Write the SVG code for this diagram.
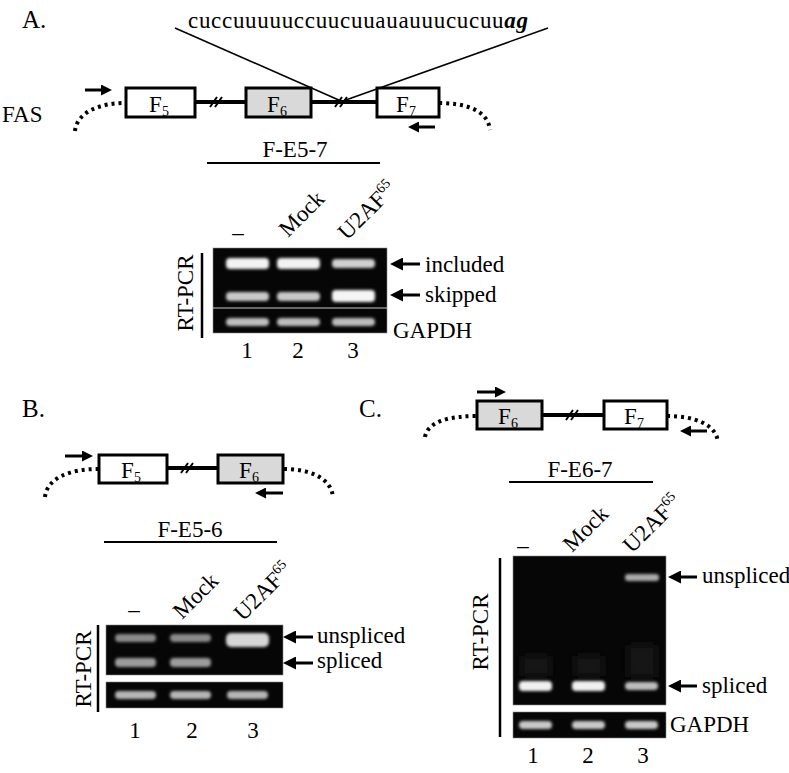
<svg xmlns="http://www.w3.org/2000/svg" width="789" height="773" viewBox="0 0 789 773">
<style>
.t{font-family:"Liberation Serif","Times New Roman",serif;font-size:23px;fill:#000}
.big{font-size:25px}
.gene{stroke:#000;stroke-width:4;fill:none}
.box{stroke:#000;stroke-width:3;fill:#fff}
.boxg{stroke:#000;stroke-width:3;fill:#d9d9d9}
.dot{stroke:#000;stroke-width:4;fill:none;stroke-dasharray:3 4}
.brk{stroke:#000;stroke-width:2;fill:none}
.thin{stroke:#000;stroke-width:1.6;fill:none}
.ul{stroke:#000;stroke-width:2;fill:none}
.arr{stroke:#000;stroke-width:3;fill:none}
.gel{fill:#060606;stroke:#888;stroke-width:0.6}
.band{filter:url(#blur)}
.sm{fill:#161616;filter:url(#smear)}
</style>
<defs>
<marker id="ah" markerWidth="13" markerHeight="13" refX="0" refY="6.5" orient="auto" markerUnits="userSpaceOnUse"><path d="M0,0 L13,6.5 L0,13 z" fill="#000"/></marker>
<marker id="ps" markerWidth="11" markerHeight="11" refX="0" refY="5.5" orient="auto" markerUnits="userSpaceOnUse"><path d="M0,0 L11,5.5 L0,11 z" fill="#000"/></marker>
<filter id="blur" x="-20%" y="-60%" width="140%" height="220%"><feGaussianBlur stdDeviation="1.8"/></filter>
<filter id="smear" x="-40%" y="-60%" width="180%" height="220%"><feGaussianBlur stdDeviation="5"/></filter>
</defs>

<!-- Panel A -->
<g id="labelA"><text class="t big" x="22" y="28">A.</text></g>
<g id="sequence"><text class="t" x="188" y="28" textLength="340" lengthAdjust="spacing">cuccuuuuuccuucuuauauuucucuu<tspan font-weight="bold" font-style="italic">ag</tspan></text></g>
<g id="FAS"><text class="t" x="2" y="122" font-size="24">FAS</text></g>
<g id="connectorsA">
<line class="thin" x1="175" y1="28" x2="341" y2="101"/>
<line class="thin" x1="548" y1="28" x2="343" y2="101"/>
<line class="gene" x1="125" y1="102" x2="439" y2="102"/>
<path class="brk" d="M210,107 L217,97 M215,107 L222,97"/>
<path class="brk" d="M335,107 L342,97 M340,107 L347,97"/>
<path class="dot" d="M75,131 C77,112 100,103 125,103"/>
<path class="dot" d="M439,103 C465,103 488,110 490,130"/>
<line class="arr" x1="85" y1="90" x2="101" y2="90" marker-end="url(#ps)"/>
<line class="arr" x1="435" y1="127" x2="419" y2="127" marker-end="url(#ps)"/>
<line class="ul" x1="207" y1="163" x2="380" y2="163"/>
</g>
<g id="A_F5"><rect class="box" x="126" y="88" width="69" height="29"/><text class="t" x="159" y="112" text-anchor="middle">F<tspan font-size="14" dy="4">5</tspan></text></g>
<g id="A_F6"><rect class="boxg" x="246" y="88" width="65" height="29"/><text class="t" x="277" y="112" text-anchor="middle">F<tspan font-size="14" dy="4">6</tspan></text></g>
<g id="A_F7"><rect class="box" x="377" y="88" width="62" height="29"/><text class="t" x="406" y="112" text-anchor="middle">F<tspan font-size="14" dy="4">7</tspan></text></g>
<g id="A_title"><text class="t" x="295" y="157" text-anchor="middle">F-E5-7</text></g>
<g id="A_lanes">
<text class="t" x="238" y="240" text-anchor="middle">–</text>
<text class="t" transform="translate(288,238) rotate(-45)">Mock</text>
<text class="t" transform="translate(347,241) rotate(-45)">U2AF<tspan font-size="14" dy="-9">65</tspan></text>
</g>
<g id="A_gel">
<rect class="gel" x="213" y="248" width="174" height="85"/>
<line x1="213" y1="308" x2="387" y2="308" stroke="#c8c8c8" stroke-width="1"/>
<rect class="band" x="226" y="258" width="43" height="11" rx="4" fill="#f2f2f2"/>
<rect class="band" x="277" y="258" width="43" height="11" rx="4" fill="#f2f2f2"/>
<rect class="band" x="332" y="259" width="43" height="9" rx="4" fill="#d0d0d0"/>
<rect class="band" x="226" y="292" width="43" height="9" rx="4" fill="#c8c8c8"/>
<rect class="band" x="277" y="292" width="43" height="9" rx="4" fill="#c8c8c8"/>
<rect class="band" x="332" y="290" width="43" height="12" rx="4" fill="#f5f5f5"/>
<rect class="band" x="226" y="318" width="43" height="8" rx="4" fill="#bdbdbd"/>
<rect class="band" x="277" y="318" width="43" height="8" rx="4" fill="#bdbdbd"/>
<rect class="band" x="332" y="318" width="43" height="8" rx="4" fill="#bdbdbd"/>
</g>
<g id="A_rtpcr"><line x1="202" y1="253" x2="202" y2="338" stroke="#000" stroke-width="2.5"/><text class="t" transform="translate(193,293) rotate(-90)" text-anchor="middle">RT-PCR</text></g>
<g id="A_marks">
<line class="arr" x1="420" y1="264" x2="403" y2="264" marker-end="url(#ah)"/>
<text class="t" x="425" y="272">included</text>
<line class="arr" x1="420" y1="295" x2="403" y2="295" marker-end="url(#ah)"/>
<text class="t" x="425" y="302">skipped</text>
<text class="t" x="393" y="338">GAPDH</text>
<text class="t" x="247" y="358" text-anchor="middle">1</text>
<text class="t" x="298" y="358" text-anchor="middle">2</text>
<text class="t" x="353" y="358" text-anchor="middle">3</text>
</g>

<!-- Panel B -->
<g id="labelB"><text class="t big" x="22" y="417">B.</text></g>
<g id="connectorsB">
<line class="gene" x1="98" y1="468" x2="284" y2="468"/>
<path class="brk" d="M181,473 L188,463 M186,473 L193,463"/>
<path class="dot" d="M45,497 C47,478 70,469 98,469"/>
<path class="dot" d="M284,469 C310,469 331,478 333,497"/>
<line class="arr" x1="65" y1="456" x2="82" y2="456" marker-end="url(#ps)"/>
<line class="arr" x1="283" y1="493" x2="266" y2="493" marker-end="url(#ps)"/>
<line class="ul" x1="104" y1="542" x2="277" y2="542"/>
</g>
<g id="B_F5"><rect class="box" x="99" y="455" width="68" height="28"/><text class="t" x="131" y="478" text-anchor="middle">F<tspan font-size="14" dy="4">5</tspan></text></g>
<g id="B_F6"><rect class="boxg" x="218" y="455" width="65" height="28"/><text class="t" x="249" y="478" text-anchor="middle">F<tspan font-size="14" dy="4">6</tspan></text></g>
<g id="B_title"><text class="t" x="190" y="537" text-anchor="middle">F-E5-6</text></g>
<g id="B_lanes">
<text class="t" x="134" y="617" text-anchor="middle">–</text>
<text class="t" transform="translate(182,620) rotate(-45)">Mock</text>
<text class="t" transform="translate(243,622) rotate(-45)">U2AF<tspan font-size="14" dy="-9">65</tspan></text>
</g>
<g id="B_gel">
<rect class="gel" x="106" y="625" width="177" height="50"/>
<rect class="gel" x="106" y="682" width="177" height="26"/>
<rect class="band" x="115" y="634" width="41" height="8" rx="4" fill="#8a8a8a"/>
<rect class="band" x="170" y="634" width="41" height="8" rx="4" fill="#8a8a8a"/>
<rect class="band" x="226" y="633" width="43" height="14" rx="5" fill="#d5d5d5"/>
<rect class="band" x="115" y="658" width="41" height="9" rx="4" fill="#9c9c9c"/>
<rect class="band" x="170" y="658" width="41" height="9" rx="4" fill="#9c9c9c"/>
<rect class="band" x="115" y="691" width="41" height="8" rx="4" fill="#b5b5b5"/>
<rect class="band" x="170" y="691" width="41" height="8" rx="4" fill="#b5b5b5"/>
<rect class="band" x="227" y="691" width="41" height="8" rx="4" fill="#b5b5b5"/>
</g>
<g id="B_rtpcr"><line x1="98" y1="625" x2="98" y2="712" stroke="#000" stroke-width="2.5"/><text class="t" transform="translate(91,669) rotate(-90)" text-anchor="middle">RT-PCR</text></g>
<g id="B_marks">
<line class="arr" x1="313" y1="637" x2="296" y2="637" marker-end="url(#ah)"/>
<text class="t" x="317" y="643">unspliced</text>
<line class="arr" x1="313" y1="663" x2="296" y2="663" marker-end="url(#ah)"/>
<text class="t" x="317" y="668">spliced</text>
<text class="t" x="135" y="738" text-anchor="middle">1</text>
<text class="t" x="192" y="738" text-anchor="middle">2</text>
<text class="t" x="253" y="738" text-anchor="middle">3</text>
</g>

<!-- Panel C -->
<g id="labelC"><text class="t big" x="359" y="417">C.</text></g>
<g id="connectorsC">
<line class="gene" x1="477" y1="415" x2="667" y2="415"/>
<path class="brk" d="M566,420 L573,410 M571,420 L578,410"/>
<path class="dot" d="M425,437 C428,421 450,416 477,416"/>
<path class="dot" d="M667,416 C694,416 716,424 718,442"/>
<line class="arr" x1="477" y1="392" x2="495" y2="392" marker-end="url(#ps)"/>
<line class="arr" x1="707" y1="431" x2="691" y2="431" marker-end="url(#ps)"/>
<line class="ul" x1="509" y1="482" x2="653" y2="482"/>
</g>
<g id="C_F6"><rect class="boxg" x="477" y="401" width="65" height="28"/><text class="t" x="508" y="424" text-anchor="middle">F<tspan font-size="14" dy="4">6</tspan></text></g>
<g id="C_F7"><rect class="box" x="604" y="401" width="63" height="28"/><text class="t" x="634" y="424" text-anchor="middle">F<tspan font-size="14" dy="4">7</tspan></text></g>
<g id="C_title"><text class="t" x="580" y="477" text-anchor="middle">F-E6-7</text></g>
<g id="C_lanes">
<text class="t" x="523" y="553" text-anchor="middle">–</text>
<text class="t" transform="translate(572,553) rotate(-45)">Mock</text>
<text class="t" transform="translate(632,554) rotate(-45)">U2AF<tspan font-size="14" dy="-9">65</tspan></text>
</g>
<g id="C_gel">
<rect class="gel" x="513" y="556" width="153" height="149"/>
<rect class="gel" x="513" y="712" width="153" height="26"/>
<rect class="sm" x="522" y="656" width="28" height="20"/>
<rect class="sm" x="575" y="656" width="28" height="20"/>
<rect class="sm" x="628" y="645" width="28" height="32"/>
<rect class="band" x="625" y="574" width="34" height="7" rx="3" fill="#aaaaaa"/>
<rect class="band" x="519" y="681" width="33" height="10" rx="4" fill="#f0f0f0"/>
<rect class="band" x="572" y="681" width="33" height="10" rx="4" fill="#f0f0f0"/>
<rect class="band" x="625" y="682" width="33" height="8" rx="4" fill="#bdbdbd"/>
<rect class="band" x="519" y="721" width="33" height="8" rx="4" fill="#c8c8c8"/>
<rect class="band" x="572" y="721" width="33" height="8" rx="4" fill="#c8c8c8"/>
<rect class="band" x="625" y="721" width="33" height="8" rx="4" fill="#c8c8c8"/>
</g>
<g id="C_rtpcr"><line x1="500" y1="558" x2="500" y2="737" stroke="#000" stroke-width="2.5"/><text class="t" transform="translate(488,632) rotate(-90)" text-anchor="middle">RT-PCR</text></g>
<g id="C_marks">
<line class="arr" x1="697" y1="577" x2="681" y2="577" marker-end="url(#ah)"/>
<text class="t" x="702" y="583">unspliced</text>
<line class="arr" x1="697" y1="686" x2="681" y2="686" marker-end="url(#ah)"/>
<text class="t" x="702" y="693">spliced</text>
<text class="t" x="670" y="732">GAPDH</text>
<text class="t" x="533" y="763" text-anchor="middle">1</text>
<text class="t" x="588" y="763" text-anchor="middle">2</text>
<text class="t" x="643" y="763" text-anchor="middle">3</text>
</g>
</svg>
